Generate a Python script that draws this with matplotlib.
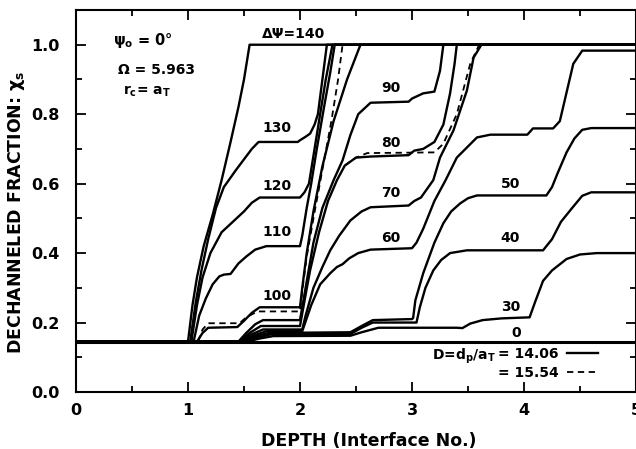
import numpy as np
import matplotlib
matplotlib.use("Agg")
import matplotlib.pyplot as plt
from matplotlib.lines import Line2D
from matplotlib import ticker as mticker

# curves (depth in interface no., dechanneled fraction)
x140 = [0, 1.0, 1.04, 1.08, 1.14, 1.22, 1.3, 1.38, 1.45, 1.5, 1.55, 5.0]
y140 = [0.145, 0.145, 0.25, 0.33, 0.42, 0.51, 0.61, 0.72, 0.82, 0.9, 1.0, 1.0]

x130 = [0, 1.02, 1.07, 1.12, 1.18, 1.25, 1.32, 1.375, 1.43, 1.5, 1.57, 1.63, 1.98, 2.0, 2.05, 2.09, 2.13, 2.16, 2.2, 2.24, 5.0]
y130 = [0.145, 0.145, 0.26, 0.35, 0.44, 0.53, 0.59, 0.615, 0.64, 0.67, 0.7, 0.72, 0.72, 0.725, 0.735, 0.744, 0.77, 0.8, 0.9, 1.0, 1.0]

x120 = [0, 1.03, 1.08, 1.13, 1.2, 1.3, 1.4, 1.5, 1.57, 1.64, 2.0, 2.04, 2.08, 2.12, 2.17, 2.23, 2.29, 5.0]
y120 = [0.145, 0.145, 0.25, 0.33, 0.4, 0.46, 0.49, 0.52, 0.545, 0.56, 0.56, 0.575, 0.6, 0.68, 0.78, 0.9, 1.0, 1.0]

x110 = [0, 1.05, 1.1, 1.16, 1.22, 1.28, 1.32, 1.38, 1.45, 1.52, 1.6, 1.7, 2.0, 2.02, 2.06, 2.1, 2.15, 2.22, 2.27, 2.31, 5.0]
y110 = [0.145, 0.145, 0.22, 0.27, 0.31, 0.333, 0.338, 0.34, 0.37, 0.39, 0.41, 0.42, 0.42, 0.45, 0.53, 0.6, 0.7, 0.83, 0.92, 1.0, 1.0]

x100 = [0, 1.08, 1.13, 1.18, 1.44, 1.5, 1.57, 1.64, 2.0, 2.02, 2.06, 2.12, 2.2, 2.3, 2.42, 2.54, 5.0]
y100 = [0.145, 0.145, 0.17, 0.185, 0.187, 0.205, 0.228, 0.244, 0.244, 0.3, 0.4, 0.52, 0.65, 0.78, 0.9, 1.0, 1.0]

x100d = [1.09, 1.13, 1.18, 1.46, 1.52, 1.62, 2.0, 2.02, 2.06, 2.12, 2.2, 2.28, 2.34, 2.38]
y100d = [0.145, 0.18, 0.198, 0.198, 0.215, 0.232, 0.232, 0.29, 0.39, 0.5, 0.64, 0.78, 0.9, 1.0]

x90 = [0, 1.45, 1.52, 1.6, 1.67, 2.0, 2.05, 2.12, 2.2, 2.3, 2.38, 2.45, 2.52, 2.63, 2.97, 3.0, 3.1, 3.2, 3.25, 3.28, 5.0]
y90 = [0.145, 0.145, 0.17, 0.195, 0.207, 0.207, 0.3, 0.43, 0.53, 0.61, 0.667, 0.74, 0.8, 0.833, 0.836, 0.845, 0.86, 0.865, 0.925, 1.0, 1.0]

x80 = [0, 1.46, 1.55, 1.65, 2.0, 2.05, 2.09, 2.17, 2.25, 2.33, 2.4, 2.5, 2.63, 2.97, 3.02, 3.1, 3.2, 3.28, 3.34, 3.38, 3.4, 5.0]
y80 = [0.145, 0.145, 0.17, 0.19, 0.19, 0.28, 0.35, 0.46, 0.55, 0.61, 0.652, 0.675, 0.678, 0.682, 0.695, 0.7, 0.72, 0.77, 0.86, 0.945, 1.0, 1.0]

x80d = [2.4, 2.5, 2.6, 3.2, 3.28, 3.4, 3.52, 3.6]
y80d = [0.652, 0.675, 0.688, 0.69, 0.715, 0.8, 0.945, 1.0]

x70 = [0, 1.47, 1.56, 1.67, 2.02, 2.05, 2.12, 2.2, 2.27, 2.35, 2.45, 2.55, 2.63, 2.97, 3.02, 3.08, 3.19, 3.25, 3.37, 3.49, 3.55, 3.62, 5.0]
y70 = [0.145, 0.145, 0.165, 0.18, 0.18, 0.22, 0.3, 0.36, 0.408, 0.45, 0.494, 0.52, 0.532, 0.537, 0.55, 0.56, 0.61, 0.675, 0.753, 0.868, 0.963, 1.0, 1.0]

x60 = [0, 1.48, 1.58, 1.7, 2.02, 2.1, 2.18, 2.27, 2.33, 2.38, 2.44, 2.52, 2.63, 3.0, 3.04, 3.1, 3.2, 3.3, 3.4, 3.58, 3.7, 4.03, 4.08, 4.26, 4.32, 4.44, 4.52, 5.0]
y60 = [0.145, 0.145, 0.162, 0.175, 0.175, 0.25, 0.31, 0.342, 0.36, 0.368, 0.385, 0.4, 0.41, 0.414, 0.43, 0.47, 0.55, 0.61, 0.675, 0.733, 0.741, 0.741, 0.759, 0.759, 0.78, 0.945, 0.983, 0.983]

x50 = [0, 1.5, 1.6, 1.72, 2.45, 2.55, 2.65, 3.0, 3.01, 3.03, 3.1, 3.2, 3.28, 3.35, 3.43, 3.5, 3.58, 4.2, 4.25, 4.3, 4.38, 4.45, 4.52, 4.6, 5.0]
y50 = [0.145, 0.145, 0.16, 0.17, 0.172, 0.19, 0.207, 0.21, 0.213, 0.264, 0.342, 0.43, 0.486, 0.52, 0.543, 0.558, 0.566, 0.566, 0.59, 0.63, 0.69, 0.73, 0.755, 0.76, 0.76]

x40 = [0, 1.5, 1.62, 1.74, 2.45, 2.55, 2.65, 3.04, 3.07, 3.12, 3.19, 3.26, 3.34, 3.49, 4.17, 4.25, 4.33, 4.43, 4.52, 4.6, 5.0]
y40 = [0.145, 0.145, 0.157, 0.166, 0.167, 0.185, 0.2, 0.2, 0.244, 0.3, 0.35, 0.38, 0.4, 0.408, 0.408, 0.44, 0.49, 0.53, 0.565, 0.575, 0.575]

x30 = [0, 1.52, 1.64, 1.76, 2.45, 2.55, 2.7, 3.4, 3.45, 3.52, 3.63, 3.8, 4.05, 4.1, 4.17, 4.25, 4.38, 4.5, 4.65, 5.0]
y30 = [0.145, 0.145, 0.154, 0.161, 0.162, 0.172, 0.185, 0.185, 0.184, 0.197, 0.207, 0.212, 0.215, 0.26, 0.32, 0.35, 0.383, 0.396, 0.4, 0.4]

x0 = [0, 5.0]
y0 = [0.145, 0.145]

curve_labels = ["\u0394\u03a8=140", "130", "120", "110", "100", "90", "80", "70", "60", "50", "40", "30", "0"]
D_values = ["14.06", "15.54"]

plt.rcParams["font.family"] = "DejaVu Sans"
plt.rcParams["font.weight"] = "bold"
plt.rcParams["mathtext.default"] = "bf"

fig = plt.figure(figsize=(6.36, 4.49), dpi=100)
ax = fig.add_axes([76 / 636, 57 / 449, 560 / 636, 382 / 449])

lw = 1.7
solid = [(x140, y140), (x130, y130), (x120, y120), (x110, y110), (x100, y100),
         (x90, y90), (x80, y80), (x70, y70), (x60, y60), (x50, y50),
         (x40, y40), (x30, y30)]
for xs, ys in solid:
    ax.plot(xs, ys, color="black", lw=lw, solid_joinstyle="round")
ax.plot(x0, y0, color="black", lw=2.2)
for xs, ys in [(x100d, y100d), (x80d, y80d)]:
    ax.plot(xs, ys, color="black", lw=1.3, linestyle=(0, (3.5, 2.5)))

# curve labels
label_pos = [(1.946, 1.032), (1.795, 0.759), (1.795, 0.592), (1.795, 0.46), (1.795, 0.276),
             (2.81, 0.874), (2.81, 0.718), (2.81, 0.572), (2.81, 0.443),
             (3.88, 0.60), (3.88, 0.443), (3.88, 0.244), (3.93, 0.17)]
for s, (tx, ty) in zip(curve_labels, label_pos):
    ax.text(tx, ty, s, fontsize=10, fontweight="bold", ha="center", va="center")

# parameters block
ax.text(0.33, 1.011, r"$\psi_o$ = 0°", fontsize=10.5, va="center")
ax.text(0.375, 0.928, "\u03a9 = 5.963", fontsize=10, va="center")
ax.text(0.42, 0.865, r"r$_c$= a$_T$", fontsize=10, va="center")

# legend for the two spacings
handles = [Line2D([], [], color="black", lw=1.7),
           Line2D([], [], color="black", lw=1.3, linestyle=(0, (3.5, 2.5)))]
leg = ax.legend(handles, ["= " + v for v in D_values], loc="upper left",
                bbox_to_anchor=(0.754, 0.118), frameon=False, markerfirst=False,
                borderpad=0, borderaxespad=0, handlelength=2.2, handletextpad=0.6,
                labelspacing=0.35, prop={"size": 10, "weight": "bold"})
ax.text(3.75, 0.104, r"D=d$_p$/a$_T$", fontsize=10, ha="right", va="center")

ax.set_xlim(0, 5)
ax.set_ylim(0, 1.1)
ax.xaxis.set_major_locator(mticker.MultipleLocator(1))
ax.xaxis.set_minor_locator(mticker.MultipleLocator(0.5))
ax.yaxis.set_major_locator(mticker.FixedLocator([0, 0.2, 0.4, 0.6, 0.8, 1.0]))
ax.yaxis.set_minor_locator(mticker.MultipleLocator(0.1))
ax.yaxis.set_major_formatter(mticker.FormatStrFormatter("%.1f"))
ax.tick_params(which="both", direction="in", top=True, right=True, width=1.3)
ax.tick_params(which="major", length=7, labelsize=11.5)
ax.tick_params(axis="y", which="major", pad=12)
ax.tick_params(axis="x", which="major", pad=8)
ax.tick_params(which="minor", length=4)
for sp in ax.spines.values():
    sp.set_linewidth(1.5)

ax.set_xlabel("DEPTH (Interface No.)", fontsize=12.5, fontweight="bold")
ax.set_ylabel(r"DECHANNELED FRACTION: $\chi_s$", fontsize=12.5, fontweight="bold")
ax.xaxis.set_label_coords(0.523, -0.104)
ax.yaxis.set_label_coords(-0.087, 0.471)

fig.savefig("out.png", dpi=100)
